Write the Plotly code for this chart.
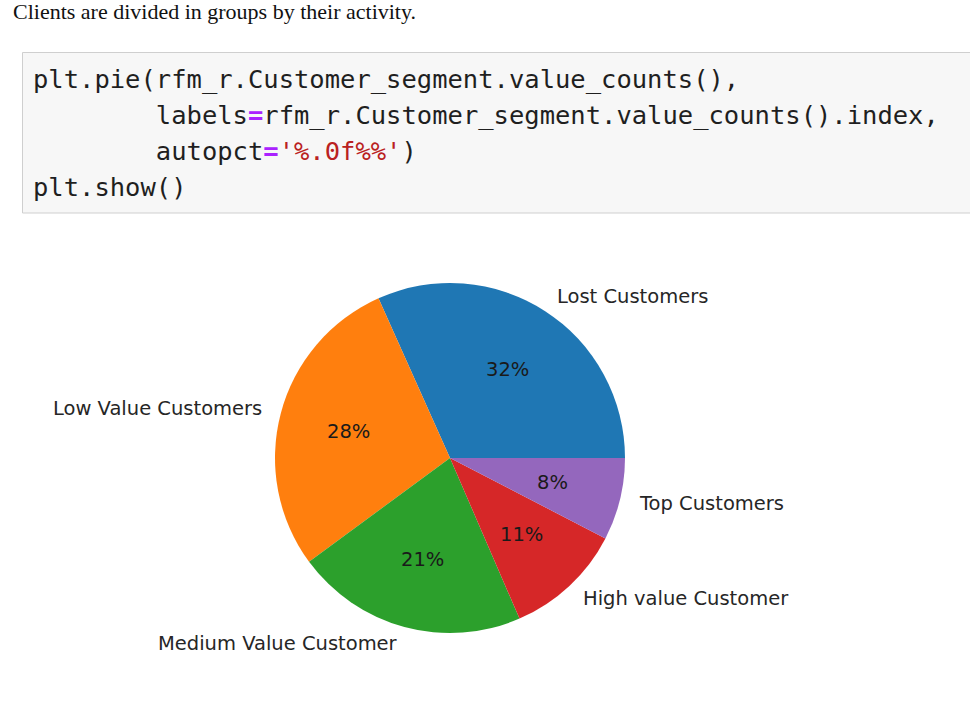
import math
import plotly.graph_objects as go

# ---- data ----
segments = ["Lost Customers", "Low Value Customers", "Medium Value Customer",
            "High value Customer", "Top Customers"]
shares = [31.7, 28.4, 21.4, 10.9, 7.6]
colors = ["#1f77b4", "#ff7f0e", "#2ca02c", "#d62728", "#9467bd"]

header_text = "Clients are divided in groups by their activity."
code_lines = [
    "plt.pie(rfm_r.Customer_segment.value_counts(),",
    "        labels{EQ}rfm_r.Customer_segment.value_counts().index,",
    "        autopct{EQ}{STR})",
    "plt.show()",
]

# ---- layout constants (pixels) ----
W, H = 970, 719
CX, CY, R = 450, 458, 175


def px(x):
    return x / W


def py(y):
    return 1 - y / H


total = sum(shares)
first_span = 360.0 * shares[0] / total

fig = go.Figure()
fig.add_trace(go.Pie(
    values=shares, labels=segments, sort=False,
    direction="counterclockwise", rotation=90 - first_span,
    textinfo="none", hoverinfo="label+percent",
    marker=dict(colors=colors, line=dict(width=0)),
    showlegend=False,
    domain=dict(x=[px(CX - R), px(CX + R)], y=[py(CY + R), py(CY - R)]),
))

annotations = []
start = 0.0
label_font = dict(family="DejaVu Sans", size=19.5, color="#262626")
for name, v in zip(segments, shares):
    span = 360.0 * v / total
    mid = math.radians(start + span / 2)
    start += span
    # outer label at 1.1 r
    lx = CX + 1.1 * R * math.cos(mid)
    ly = CY - 1.1 * R * math.sin(mid)
    annotations.append(dict(
        x=px(lx), y=py(ly), xref="paper", yref="paper", text=name,
        showarrow=False, xanchor="left" if math.cos(mid) > 0 else "right",
        yanchor="middle", font=label_font))
    # percentage at 0.6 r
    tx = CX + 0.6 * R * math.cos(mid)
    ty = CY - 0.6 * R * math.sin(mid)
    annotations.append(dict(
        x=px(tx), y=py(ty), xref="paper", yref="paper",
        text=f"{v / total * 100:.0f}%", showarrow=False,
        xanchor="center", yanchor="middle",
        font=dict(family="DejaVu Sans", size=19.5, color="#1a1a1a")))

# header text
annotations.append(dict(
    x=px(11), y=py(11), xref="paper", yref="paper", text=header_text,
    showarrow=False, xanchor="left", yanchor="middle",
    font=dict(family="Liberation Serif", size=22, color="#111111")))

# code cell
EQ = '<span style="color:#aa22ff"><b>=</b></span>'
STR = '<span style="color:#ba2121">\'%.0f%%\'</span>'
line_centers = [79, 115, 151, 187]
for line, yc in zip(code_lines, line_centers):
    t = line.replace("{EQ}", EQ).replace("{STR}", STR)
    # preserve leading indentation
    stripped = t.lstrip(" ")
    t = "\u00a0" * (len(t) - len(stripped)) + stripped
    annotations.append(dict(
        x=px(31), y=py(yc), xref="paper", yref="paper", text=t,
        showarrow=False, xanchor="left", yanchor="middle",
        font=dict(family="DejaVu Sans Mono", size=25.5, color="#1f1f1f")))

fig.update_layout(
    width=W, height=H,
    margin=dict(l=0, r=0, t=0, b=0),
    paper_bgcolor="white", plot_bgcolor="white",
    annotations=annotations,
    shapes=[dict(type="rect", xref="paper", yref="paper",
                 x0=px(22.5), x1=px(990), y0=py(213), y1=py(52.5),
                 fillcolor="#f7f7f7", line=dict(color="#cfcfcf", width=1),
                 layer="below")],
)

fig.write_html("out.html")
